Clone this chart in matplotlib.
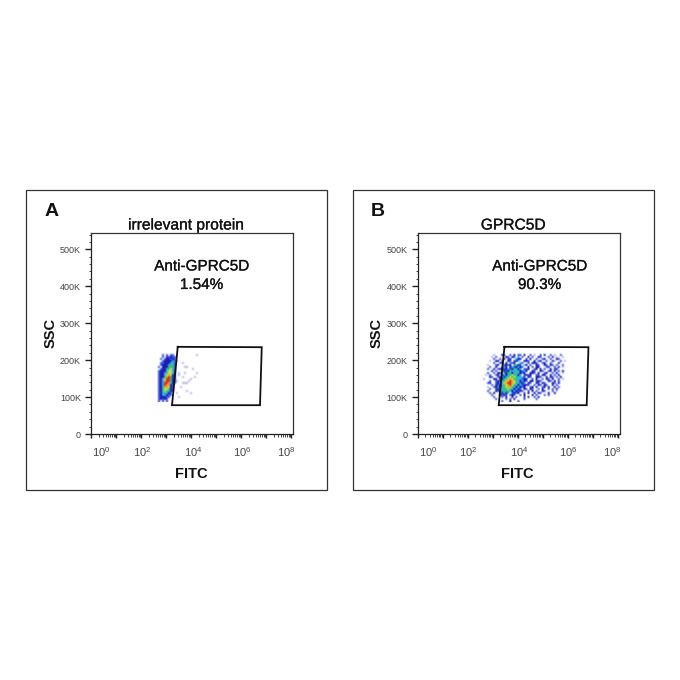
'''
Flow cytometry pseudocolor panels, FITC vs SSC
'''

import matplotlib
matplotlib.use("Agg")
import matplotlib.pyplot as plt
import matplotlib.patheffects as pe
from matplotlib.colors import to_rgb
from matplotlib.patches import Rectangle
from matplotlib.ticker import MultipleLocator
import numpy as np

plt.rcParams["font.family"] = ["Liberation Sans", "DejaVu Sans"]

W = 680

# density level per bin, top row first (0 = no events)
density_a = [
    "0000000000000000000000000",
    "0002020220000000000010000",
    "0002032322000000000000000",
    "0020233232000000000000000",
    "0002333342100000000000000",
    "0022333442000100000000000",
    "0023334542000000000000000",
    "0203335552000011000000000",
    "0023345642000000001000000",
    "0233346642000000000000000",
    "0233456642010010000010000",
    "0233467632010000000000000",
    "0233578532000100000100000",
    "0234688532000000010000000",
    "0234788532100000100000000",
    "0234887432000111000000000",
    "0234877320000000000000000",
    "0235776320001000000000000",
    "0235665320000000000000000",
    "0234654320000001000000000",
    "0234543200100000010000000",
    "0234432200000000000000000",
    "0233322000010000000000000",
    "0232320000000000000000000",
    "0202020000000000000000000",
]
density_b = [
    "000000000000000000000000000000000000000000",
    "000001000320020302203002010020300201002000",
    "000010200003203204020030200320002030100100",
    "000002002030230043300203002002300200320000",
    "000100330200320234003320030230020031002010",
    "000002002303042300420020332002300200030000",
    "001000230023230453204302003200320320200200",
    "000200300243034234320030203300023002030100",
    "002003023323423543402230023030200302300000",
    "000030200432354445324300320032002303020300",
    "002002033043543454323003320300230020300100",
    "010200230343456543402323002203300302030000",
    "000320023435465654442032003320030320203000",
    "100003303345676544423300203002032030020100",
    "000200232456787654343203302320003203020000",
    "002300234467887654234032003203200032030000",
    "000020323456786543423320020320320030200000",
    "001002343456765434323002303002303003020000",
    "000200234545654343203203200203002020300000",
    "002000323454543432320020302003200020100000",
    "000203004343402323002030030320003003000000",
    "000020003232023200203000302000202000000000",
    "000002000203003020002030020300000000000000",
    "000000200002020300002000002000000000000000",
    "000000000200030002000000000000000000000000",
]

# gate corners, log10(FITC) and SSC in thousands
gate_x = [3.47, 6.83, 6.76, 3.24, 3.47]
gate_y = [236, 235, 78, 78, 236]

x_ticks = [0, 2, 4, 6, 8]
y_ticks = [0, 100, 200, 300, 400, 500]
y_labels = ["0", "100K", "200K", "300K", "400K", "500K"]

level_colors = ["#ffffff", "#b4b8ea", "#3c58e0", "#1c1cb4", "#2cb4e4", "#34c46c",
                "#c8e044", "#f0a030", "#e02a20"]
level_rgb = np.array([to_rgb(c) for c in level_colors])

heavy = [pe.withStroke(linewidth=0.2, foreground="#222222")]


def ftext(fig, px, py, s, **kw):
    kw.setdefault("ha", "center")
    kw.setdefault("va", "center")
    fig.text(px / W, 1 - py / W, s, **kw)


def draw_panel(fig, frame_x, plot_x, letter, letter_x, title, title_x, density, note, note_x, label_x, fitc_x):
    fig.add_artist(Rectangle((frame_x / W, 1 - 490 / W), 301 / W, 300.5 / W, fill=False,
                             ec="#333333", lw=0.9, transform=fig.transFigure))
    ax = fig.add_axes([plot_x / W, 1 - 434 / W, 202 / W, 201.3 / W])

    rows = np.array([[int(c) for c in r] for r in density])
    extent = (2.6, 2.6 + 0.08 * rows.shape[1], 222 - 5.41 * rows.shape[0], 222)
    ax.imshow(level_rgb[rows], extent=extent, aspect="auto", interpolation="bilinear")
    ax.plot(gate_x, gate_y, color="#111111", lw=1.3, solid_joinstyle="miter")

    ax.set_xlim(0, 8.08)
    ax.set_ylim(0, 545)

    ax.set_xticks(range(9))
    ax.set_xticks([d + np.log10(m) for d in range(8) for m in range(2, 10)], minor=True)
    ax.set_xticklabels([])
    ax.set_yticks(y_ticks)
    ax.set_yticklabels(y_labels, fontsize=6.5, color="#444444")
    ax.yaxis.set_minor_locator(MultipleLocator(20))
    ax.tick_params(axis="y", which="major", length=4.3, width=1.0, pad=3, color="#222222")
    ax.tick_params(axis="y", which="minor", length=1.8, width=0.7, color="#444444")
    ax.tick_params(axis="x", which="major", length=3.2, width=1.0, color="#222222")
    ax.tick_params(axis="x", which="minor", length=1.8, width=0.7, color="#444444")
    for side in ["left", "bottom"]:
        ax.spines[side].set_linewidth(0.9)
        ax.spines[side].set_color("#222222")
    for side in ["top", "right"]:
        ax.spines[side].set_linewidth(0.9)
        ax.spines[side].set_color("#333333")

    # exponent labels sit off their ticks in the original export
    for t, dx in zip(x_ticks, [10.5, 1, 2, 1, -5]):
        ftext(fig, plot_x + t * 25 + dx, 452.5, r"$\mathregular{10^{%d}}$" % t, fontsize=8, color="#444444")

    ftext(fig, letter_x, 212, letter, fontsize=14, fontweight="bold", color="#111111")
    ftext(fig, title_x, 225, title, fontsize=11.2, color="#111111", path_effects=heavy)
    ftext(fig, note_x, 266.5, "Anti-GPRC5D", fontsize=11, color="#111111", path_effects=heavy)
    ftext(fig, note_x, 285, note, fontsize=11, color="#111111", path_effects=heavy)
    ftext(fig, label_x, 333, "SSC", fontsize=10.5, fontweight="bold", rotation=90, color="#111111")
    ftext(fig, fitc_x, 474, "FITC", fontsize=10.5, fontweight="bold", color="#111111")


fig = plt.figure(figsize=(6.8, 6.8), dpi=100)
draw_panel(fig, 25.5, 91, "A", 51.5, "irrelevant protein", 186, density_a, "1.54%", 201.5, 50.5, 191)
draw_panel(fig, 352.5, 417.7, "B", 378, "GPRC5D", 513, density_b, "90.3%", 539.5, 377, 517.5)
fig.savefig("out.png", dpi=100)
